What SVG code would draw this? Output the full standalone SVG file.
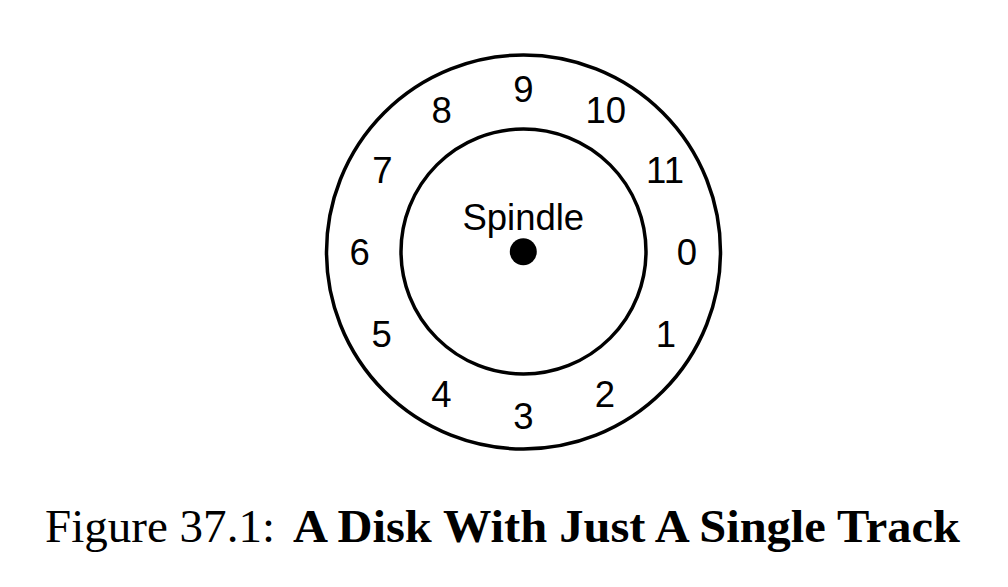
<svg xmlns="http://www.w3.org/2000/svg" width="1008" height="587" viewBox="0 0 1008 587">
<style>
.ring{fill:none;stroke:#000;stroke-width:3.5}
.num{font-family:"Liberation Sans",Arial,sans-serif;font-size:36.5px;fill:#000;text-anchor:middle}
.cap{font-family:"Liberation Serif","Times New Roman",serif;font-size:46px;fill:#000}
</style>
<rect width="1008" height="587" fill="#fff"/>
<g id="disk">
<circle class="ring" cx="523.5" cy="252" r="197"/>
</g>
<g id="track">
<circle class="ring" cx="523.5" cy="251.5" r="122.5"/>
</g>
<g id="spindle">
<circle cx="523.3" cy="251.7" r="13.5" fill="#000"/>
<text class="num" x="523.3" y="230">Spindle</text>
</g>
<g id="sectors">
<text class="num" x="687" y="265">0</text>
<text class="num" x="666" y="346.7">1</text>
<text class="num" x="605" y="407.3">2</text>
<text class="num" x="523.3" y="429.3">3</text>
<text class="num" x="441.3" y="407.3">4</text>
<text class="num" x="381.7" y="346.7">5</text>
<text class="num" x="359.7" y="265">6</text>
<text class="num" x="382.3" y="183.3">7</text>
<text class="num" x="441.7" y="123.3">8</text>
<text class="num" x="523.3" y="101.7">9</text>
<text class="num" x="605.7" y="123.3">10</text>
<text class="num" x="665" y="183.3">11</text>
</g>
<g id="caption">
<text class="cap" x="45" y="541.7" textLength="230" lengthAdjust="spacingAndGlyphs">Figure 37.1:</text>
<text class="cap" x="293" y="541.7" font-weight="bold" textLength="667" lengthAdjust="spacingAndGlyphs">A Disk With Just A Single Track</text>
</g>
</svg>
